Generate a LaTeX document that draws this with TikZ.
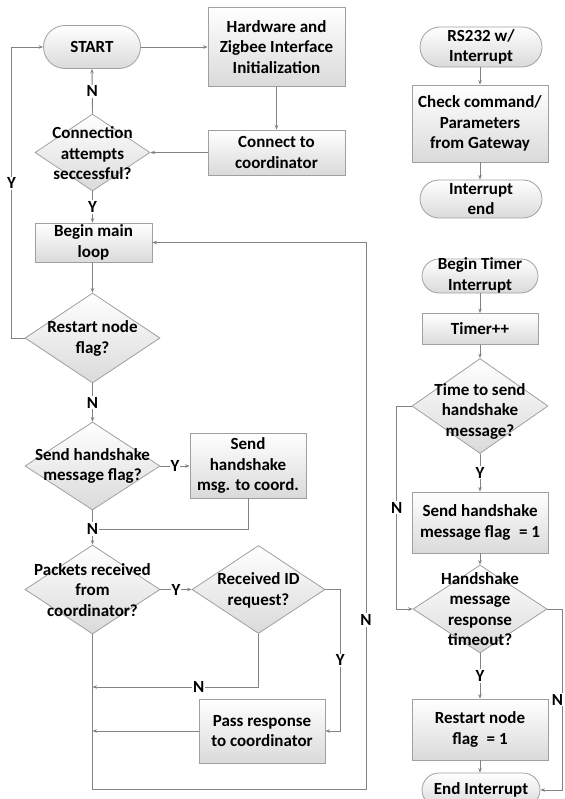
\documentclass[tikz,border=0pt]{standalone}
\usepackage{fontspec}
\setmainfont{Carlito}
\usetikzlibrary{shapes.geometric,shapes.misc,arrows.meta}
\definecolor{bordc}{RGB}{160,160,160}
\definecolor{linec}{RGB}{130,130,130}
\definecolor{fillc}{RGB}{218,218,218}
\begin{document}
\begin{tikzpicture}[x=1pt,y=-1pt,
  txt/.style={font=\bfseries\fontsize{17}{20.5}\selectfont, text=black, align=center},
  box/.style={txt, draw=bordc, line width=0.8pt, top color=white, bottom color=fillc, inner sep=0pt},
  term/.style={draw=bordc, line width=0.8pt, top color=white, bottom color=fillc, inner sep=0pt, rounded rectangle, rounded rectangle arc length=180},
  dia/.style={diamond, draw=bordc, line width=0.8pt, top color=white, bottom color=fillc, inner sep=0pt},
  ln/.style={draw=linec, line width=0.9pt},
  arr/.style={ln, -{Stealth[length=4.5pt,width=3.5pt]}},
  lab/.style={txt, fill=white, inner sep=1pt}
]
\useasboundingbox (0,0) rectangle (564,799);
\clip (0,0) rectangle (564,799);
\fill[white] (0,0) rectangle (564,799);

% ---- left main flow ----
\node[term, minimum width=97pt, minimum height=43pt] (start) at (92,47) {};
\node[txt] (startt) at (92,47) {START};
\node[box, minimum width=137pt, minimum height=79pt] (hw) at (276.5,47) {Hardware and\\Zigbee Interface\\Initialization};
\node[box, minimum width=137pt, minimum height=45pt] (conn) at (276.5,152.5) {Connect to\\coordinator};
\node[dia, minimum width=115pt, minimum height=77pt] (cdia) at (92.5,152.5) {};
\node[txt] (cdiat) at (92.5,153.5) {Connection\\attempts\\seccessful?};
\node[box, minimum width=117pt, minimum height=39pt] (loop) at (93.5,242.5) {Begin main\\loop};
\node[dia, minimum width=135pt, minimum height=90pt] (rdia) at (92.5,338) {};
\node[txt] (rdiat) at (92.5,338.5) {Restart node\\flag?};
\node[dia, minimum width=135pt, minimum height=88pt] (sdia) at (92.5,466) {};
\node[txt] (sdiat) at (92.5,466) {Send handshake\\message flag?};
\node[box, minimum width=116pt, minimum height=65pt] (sbox) at (248,465.5) {Send\\handshake\\msg. to coord.};
\node[dia, minimum width=135pt, minimum height=89pt] (pdia) at (92.5,589.5) {};
\node[txt] (pdiat) at (92.5,590) {Packets received\\from\\coordinator?};
\node[dia, minimum width=133pt, minimum height=88pt] (iddia) at (258.5,589.5) {};
\node[txt] (iddiat) at (258.5,590.5) {Received ID\\request?};
\node[box, minimum width=126pt, minimum height=64pt] (pass) at (262,731) {Pass response\\to coordinator};

\coordinate (j1) at (92.5,529);
\coordinate (j2) at (92.5,687);
\coordinate (j3) at (92.5,731);
\coordinate (c1) at (366,789);

\draw[arr] (start.east) -- (start.east -| hw.west);
\draw[arr] (hw) -- (conn);
\draw[arr] (conn.west) -- (cdia.east);
\draw[arr] (cdia.north) -- node[lab]{N} (start.south);
\draw[arr] (cdia.south) -- node[lab]{Y} (loop.north -| cdia.south);
\draw[arr] (loop.south -| rdia.north) -- (rdia.north);
\draw[arr] (rdia.west) -- ++(-13,0) |- node[lab,pos=0.266]{Y} (start.west);
\draw[arr] (rdia.south) -- node[lab]{N} (sdia.north);
\draw[arr] (sdia.east) -- node[lab]{Y} (sdia.east -| sbox.west);
\draw[ln] (sbox.south) |- (j1);
\draw[arr] (sdia.south) -- (pdia.north);
\node[lab] (nj1) at (j1) {N};
\draw[arr] (pdia.east) -- node[lab]{Y} (iddia.west);
\draw[arr] (iddia.east) -- ++(15,0) |- node[lab,pos=0.25]{Y} (pass.east);
\draw[arr] (iddia.south) |- node[lab,pos=0.68]{N} (j2);
\draw[arr] (pass.west) -- (j3);
\draw[arr] (pdia.south) |- (c1) |- (loop.east);
\node[lab] (nret) at (366,620) {N};

% ---- RS232 interrupt ----
\node[term, minimum width=122pt, minimum height=40pt] (rs) at (481,47) {};
\node[txt] (rst) at (481,47) {RS232 w/\\Interrupt};
\node[box, minimum width=136pt, minimum height=77pt] (chk) at (480,123.5) {Check command/\\Parameters\\from Gateway};
\node[term, minimum width=122pt, minimum height=38pt] (iend) at (481,199) {};
\node[txt] (iendt) at (481,199) {Interrupt\\end};
\draw[arr] (rs.south -| chk.north) -- (chk.north);
\draw[arr] (chk.south) -- (chk.south |- iend.north);

% ---- timer interrupt ----
\node[term, minimum width=116pt, minimum height=34pt] (bt) at (480,276) {};
\node[txt] (btt) at (480,275.5) {Begin Timer\\Interrupt};
\node[box, minimum width=116pt, minimum height=31pt] (tpp) at (480,329) {Timer++};
\node[dia, minimum width=136pt, minimum height=95pt] (tdia) at (480,406) {};
\node[txt] (tdiat) at (480,411) {Time to send\\handshake\\message?};
\node[box, minimum width=136pt, minimum height=61pt] (hbox) at (480,522.5) {Send handshake\\message flag\enspace= 1};
\node[dia, minimum width=134pt, minimum height=88pt] (hdia) at (480,609) {};
\node[txt] (hdiat) at (480,609) {Handshake\\message\\response\\timeout?};
\node[box, minimum width=136pt, minimum height=61pt] (rbox) at (480,729.5) {Restart node\\flag\enspace= 1};
\node[term, minimum width=118pt, minimum height=34pt] (eint) at (481,790) {};
\node[txt] (eintt) at (481,790) {End Interrupt};

\draw[arr] (bt.south) -- (tpp.north);
\draw[arr] (tpp.south) -- (tdia.north);
\draw[arr] (tdia.south) -- node[lab]{Y} (hbox.north);
\draw[arr] (tdia.west) -- ++(-15,0) |- node[lab,pos=0.25]{N} (hdia.west);
\draw[arr] (hbox.south) -- (hdia.north);
\draw[arr] (hdia.south) -- node[lab]{Y} (rbox.north);
\draw[arr] (rbox.south) -- (rbox.south |- eint.north);
\draw[arr] (hdia.east) -- ++(15,0) |- coordinate[pos=0.25] (nrpos) (eint.east);
\node[lab] (nright) at ([xshift=-5pt]nrpos) {N};
\end{tikzpicture}
\end{document}
